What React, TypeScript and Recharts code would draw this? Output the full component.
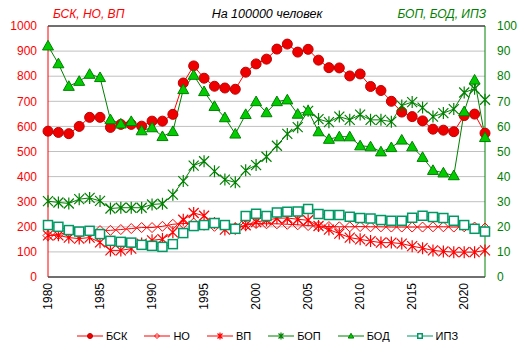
import React from 'react';
import { ComposedChart, Line, XAxis, YAxis, CartesianGrid, Legend, ReferenceLine } from 'recharts';

const years = [
  1980, 1981, 1982, 1983, 1984, 1985, 1986, 1987, 1988, 1989,
  1990, 1991, 1992, 1993, 1994, 1995, 1996, 1997, 1998, 1999,
  2000, 2001, 2002, 2003, 2004, 2005, 2006, 2007, 2008, 2009,
  2010, 2011, 2012, 2013, 2014, 2015, 2016, 2017, 2018, 2019,
  2020, 2021, 2022,
];

// left axis (0-1000)
const bsk = [
  581, 576, 571, 600, 636, 636, 596, 608, 608, 601,
  621, 621, 648, 773, 841, 792, 760, 753, 748, 816,
  849, 868, 908, 928, 896, 907, 864, 834, 833, 801,
  809, 759, 743, 700, 657, 639, 622, 589, 585, 579,
  643, 649, 573,
];
const no = [
  165, 170, 175, 178, 183, 185, 186, 189, 193, 197,
  197, 202, 210, 213, 215, 206, 202, 202, 197, 206,
  213, 212, 212, 210, 208, 205, 203, 201, 200, 200,
  201, 200, 200, 199, 199, 199, 199, 200, 200, 199,
  200, 199, 195,
];
const vp = [
  166, 166, 157, 153, 157, 138, 106, 106, 113, 133,
  146, 151, 178, 228, 255, 244, 215, 189, 192, 206,
  219, 226, 234, 235, 230, 226, 203, 189, 173, 157,
  150, 143, 137, 137, 133, 123, 115, 106, 102, 99,
  99, 99, 106,
];

// right axis (0-100)
const bop = [
  30.2, 29.7, 29.3, 31, 31.5, 30.3, 27.3, 27.6, 27.6, 27.6,
  28.9, 29.2, 32.8, 38.2, 44.4, 46.1, 42.1, 38.8, 37.7, 42.5,
  44.6, 47.9, 52.3, 57, 59.7, 66.2, 62.9, 61.7, 63.9, 62.6,
  64.7, 62.6, 62.6, 61.9, 68.3, 69.7, 67.5, 63.9, 65.3, 66.9,
  73.5, 75, 70.6,
];
const bod = [
  92.1, 85, 76, 78, 80.8, 79.5, 62.7, 61, 62, 58.3,
  59.5, 56, 58, 74.7, 80.4, 73.9, 68, 63.5, 57, 64.8,
  69.9, 65.5, 69.9, 70.6, 64.9, 66.2, 57.9, 54.9, 55.9, 55.9,
  52.3, 51.9, 49.9, 51.6, 54.6, 51.9, 47.7, 42.5, 41.5, 40.4,
  65.9, 78.5, 55.6,
];
const ipz = [
  20.7, 20, 18.7, 18.1, 18.4, 17.1, 14.4, 14, 13.7, 12.8,
  12.4, 12, 13.1, 17.5, 20.3, 20.7, 21.5, 20.7, 19.2, 24.3,
  25.2, 24.3, 25.7, 26, 26.1, 27.1, 25.1, 24.7, 24.7, 24,
  23.5, 23.3, 22.7, 22.4, 22.4, 23.6, 24.4, 23.9, 23.5, 22.4,
  20.7, 19.2, 18.1,
];

const leftTicks = [0, 100, 200, 300, 400, 500, 600, 700, 800, 900, 1000];
const rightTicks = [0, 10, 20, 30, 40, 50, 60, 70, 80, 90, 100];

const rows = years.map((year, i) => ({
  year, bsk: bsk[i], no: no[i], vp: vp[i], bop: bop[i], bod: bod[i], ipz: ipz[i],
}));

const RED = '#ff0000';
const GREEN = '#008000';
const TEAL = '#009966';
const FONT = 'Arial, "Liberation Sans", sans-serif';

type Mk = 'circle' | 'diamond' | 'star' | 'triangle' | 'square';

function marker(kind: Mk, cx: number, cy: number, color: string, s = 1, key?: string) {
  if (kind === 'circle')
    return <circle key={key} cx={cx} cy={cy} r={5 * s} fill="#ee0000" stroke="#c00000" strokeWidth={1} />;
  if (kind === 'diamond') {
    const r = 5 * s;
    return <path key={key} d={`M${cx},${cy - r}L${cx + r},${cy}L${cx},${cy + r}L${cx - r},${cy}Z`} fill="none" stroke={color} strokeWidth={1} />;
  }
  if (kind === 'star') {
    const r = 5 * s;
    return (
      <path key={key} d={`M${cx - r},${cy - r}L${cx + r},${cy + r}M${cx - r},${cy + r}L${cx + r},${cy - r}M${cx},${cy - r - 1}L${cx},${cy + r + 1}`}
        stroke={color} strokeWidth={1.2} fill="none" />
    );
  }
  if (kind === 'triangle') {
    const r = 5.5 * s;
    return <path key={key} d={`M${cx},${cy - r}L${cx + r},${cy + r * 0.75}L${cx - r},${cy + r * 0.75}Z`} fill="#00cc00" stroke={GREEN} strokeWidth={1} />;
  }
  const h = 4.5 * s;
  return <rect key={key} x={cx - h} y={cy - h} width={2 * h} height={2 * h} fill="#ffffff" stroke={TEAL} strokeWidth={1.5} />;
}

const dotOf = (kind: Mk, color: string) => (p: any) =>
  marker(kind, p.cx, p.cy, color, 1, `${kind}-${p.index}`);

const series = [
  { key: 'bsk', name: 'БСК', color: RED, mk: 'circle' as Mk, axis: 'left' },
  { key: 'no', name: 'НО', color: RED, mk: 'diamond' as Mk, axis: 'left' },
  { key: 'vp', name: 'ВП', color: RED, mk: 'star' as Mk, axis: 'left' },
  { key: 'bop', name: 'БОП', color: GREEN, mk: 'star' as Mk, axis: 'right' },
  { key: 'bod', name: 'БОД', color: GREEN, mk: 'triangle' as Mk, axis: 'right' },
  { key: 'ipz', name: 'ИПЗ', color: TEAL, mk: 'square' as Mk, axis: 'right' },
];

const YearTick = (props: any) => {
  const { x, y, payload } = props;
  return (
    <text x={x} y={y} transform={`rotate(-90, ${x}, ${y})`} textAnchor="end" dominantBaseline="central"
      fontSize={12} fontFamily={FONT} fill="#000">
      {payload.value}
    </text>
  );
};

const LegendBox = () => (
  <div style={{ height: 36, display: 'flex', justifyContent: 'center', alignItems: 'flex-start', paddingTop: 8, paddingLeft: 28, boxSizing: 'border-box', fontFamily: FONT, fontSize: 11, color: '#000' }}>
    {series.map((s) => (
      <div key={s.key} style={{ display: 'flex', alignItems: 'center', marginRight: 17 }}>
        <svg width={26} height={14}>
          <line x1={0} y1={7} x2={26} y2={7} stroke={s.color} strokeWidth={1} />
          {marker(s.mk, 13, 7, s.color, 0.5)}
        </svg>
        <span style={{ marginLeft: 3 }}>{s.name}</span>
      </div>
    ))}
  </div>
);

export default function App() {
  return (
    <div style={{ position: 'absolute', left: 0, top: 0, width: 524, height: 357, background: '#fff' }}>
      <div style={{ position: 'absolute', left: 0, top: 7, width: 534, textAlign: 'center', fontFamily: FONT, fontSize: 12.5, fontStyle: 'italic', color: '#000' }}>
        На 100000 человек
      </div>
      <div style={{ position: 'absolute', left: 53, top: 7, fontFamily: FONT, fontSize: 12, fontStyle: 'italic', color: RED }}>
        БСК, НО, ВП
      </div>
      <div style={{ position: 'absolute', right: 38, top: 7, fontFamily: FONT, fontSize: 12, fontStyle: 'italic', color: GREEN }}>
        БОП, БОД, ИПЗ
      </div>
      <ComposedChart width={524} height={357} data={rows} margin={{ top: 26, right: 0, bottom: 0, left: 0 }}>
        <CartesianGrid yAxisId="left" vertical={false} stroke="#c0c0c0" />
        <XAxis dataKey="year" interval={4} tickLine={false} tickSize={0} tickMargin={6} height={44}
          axisLine={{ stroke: '#000' }} tick={<YearTick />} />
        <YAxis yAxisId="left" domain={[0, 1000]} ticks={leftTicks} width={48} tickLine={false} tickSize={0} tickMargin={11}
          axisLine={{ stroke: RED }} tick={{ fill: RED, fontSize: 12, fontFamily: FONT }} />
        <YAxis yAxisId="right" orientation="right" domain={[0, 100]} ticks={rightTicks} width={39} tickLine={false} tickSize={0} tickMargin={12}
          axisLine={{ stroke: GREEN }} tick={{ fill: GREEN, fontSize: 12, fontFamily: FONT }} />
        <ReferenceLine yAxisId="left" y={1000} stroke="#000" />
        {series.map((s) => (
          <Line key={s.key} yAxisId={s.axis} dataKey={s.key} name={s.name} type="linear" stroke={s.color} strokeWidth={1}
            dot={dotOf(s.mk, s.color)} activeDot={false} isAnimationActive={false} />
        ))}
        <Legend verticalAlign="bottom" content={<LegendBox />} />
      </ComposedChart>
    </div>
  );
}
